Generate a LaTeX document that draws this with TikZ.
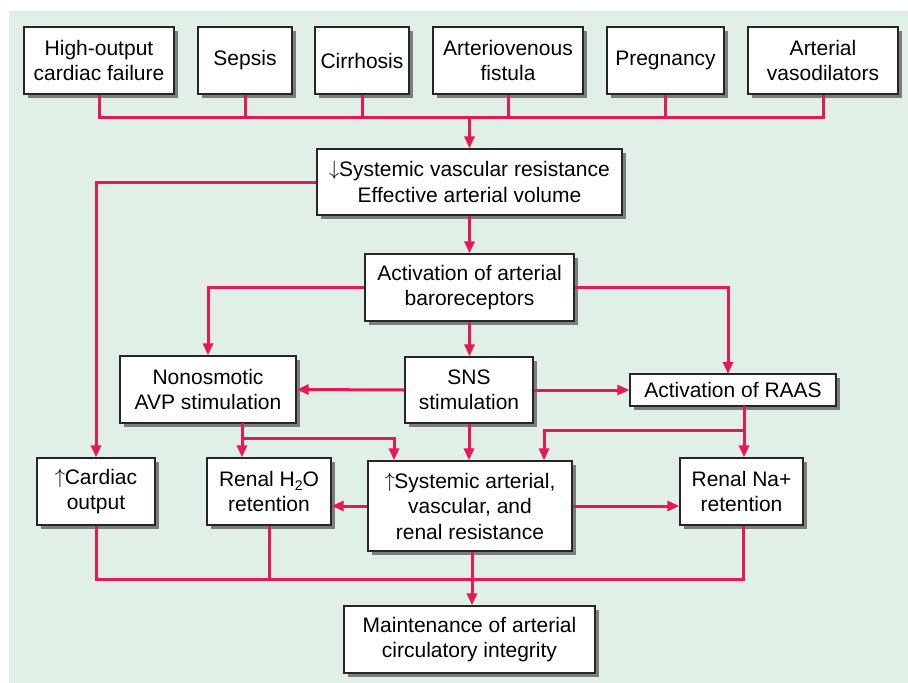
\documentclass[tikz,border=0pt]{standalone}
\usepackage{fontspec}
\setmainfont{Liberation Sans}
\usetikzlibrary{arrows.meta}
\definecolor{bggreen}{RGB}{224,240,230}
\definecolor{linkred}{RGB}{232,24,88}
\definecolor{shadowgray}{RGB}{125,125,125}
\newcommand{\subtwo}{\raisebox{-0.4ex}{\fontsize{14}{14}\selectfont 2}}
\newcommand{\uparr}{\raisebox{0.1ex}{$\uparrow$}\kern-0.5pt}
\newcommand{\downarr}{\raisebox{0.1ex}{$\downarrow$}\kern-0.5pt}
\tikzset{
  box/.style={draw=black!85, line width=1.3pt, fill=white, inner sep=0pt,
    align=center, font=\fontsize{21}{25.5}\selectfont,
    preaction={fill=shadowgray, draw=none, transform canvas={shift={(3.5pt,-3.5pt)}}}},
  link/.style={draw=linkred, line width=3pt},
  arrowlink/.style={link, -{Triangle[length=12pt,width=10pt]}}
}
\begin{document}
\begin{tikzpicture}[x=1pt,y=-1pt]
  % page and background panel
  \useasboundingbox (0,0) rectangle (908,683);
  \fill[white] (0,0) rectangle (908,683);
  \fill[bggreen] (9,11) rectangle (908,683);

  % causes
  \node[box, minimum width=150, minimum height=67] (hocf) at (99,60.5) {High-output\\cardiac failure};
  \node[box, minimum width=94,  minimum height=67] (seps) at (245,60.5) {Sepsis};
  \node[box, minimum width=94,  minimum height=67] (cirr) at (362,60.5) {Cirrhosis};
  \node[box, minimum width=150, minimum height=67] (avf)  at (508,60.5) {Arteriovenous\\fistula};
  \node[box, minimum width=117, minimum height=67] (preg) at (665.5,60.5) {Pregnancy};
  \node[box, minimum width=150, minimum height=67] (avas) at (823,60.5) {Arterial\\vasodilators};

  % central chain
  \node[box, minimum width=305, minimum height=66] (svr)  at (469.5,182) {\downarr Systemic vascular resistance\\Effective arterial volume};
  \node[box, minimum width=209, minimum height=67] (baro) at (469.5,287.5) {Activation of arterial\\baroreceptors};
  \node[box, minimum width=176, minimum height=67] (avp)  at (208,389.5) {Nonosmotic\\AVP stimulation};
  \node[box, minimum width=128, minimum height=66] (sns)  at (469,390) {SNS\\stimulation};
  \node[box, minimum width=206, minimum height=32] (raas) at (733,390) {Activation of RAAS};

  % effects
  \node[box, minimum width=118, minimum height=67] (co)   at (96,491.5) {\uparr Cardiac\\output};
  \node[box, minimum width=124, minimum height=67] (h2o)  at (269,491.5) {Renal H\subtwo O\\retention};
  \node[box, minimum width=204, minimum height=90] (sar)  at (470,506) {\uparr Systemic arterial,\\vascular, and\\renal resistance};
  \node[box, minimum width=123, minimum height=67] (na)   at (741.5,491.5) {Renal Na+\\retention};
  \node[box, minimum width=251, minimum height=67] (mnt)  at (469.5,639.5) {Maintenance of arterial\\circulatory integrity};

  % helper coordinates for bus lines and branch points
  \coordinate (topbus) at (0,117);
  \coordinate (botbus) at (0,579);
  \coordinate (avpdrop) at (242,423);
  \coordinate (avpfork) at (242,438);
  \coordinate (avpto) at (394,438);
  \coordinate (raasdrop) at (744,406);
  \coordinate (raasfork) at (744,430);
  \coordinate (raasto) at (544,430);
  \coordinate (raasin) at (728,374);

  % top bus collecting the causes
  \draw[link] (hocf.south) -- (hocf.south |- topbus) -- (avas.south |- topbus) -- (avas.south);
  \foreach \n in {seps,cirr,avf,preg} \draw[link] (\n.south) -- (\n.south |- topbus);
  \draw[arrowlink] (svr.north |- topbus) -- (svr.north);

  % from the vascular resistance box
  \draw[arrowlink] (svr.west) -| (co.north);
  \draw[arrowlink] (svr.south) -- (baro.north);

  % from the baroreceptors
  \draw[arrowlink] (baro.west) -| (avp.north);
  \draw[arrowlink] (baro.east) -| (raasin);
  \draw[arrowlink] (baro.south) -- (baro.south |- sns.north);

  % from SNS stimulation
  \draw[arrowlink] (sns.west) -- (avp.east);
  \draw[arrowlink] (sns.east) -- (raas.west);
  \draw[arrowlink] (sns.south) -- (sns.south |- sar.north);

  % from AVP stimulation
  \draw[arrowlink] (avpdrop) -- (avpdrop |- h2o.north);
  \draw[arrowlink] (avpfork) -- (avpto) -- (avpto |- sar.north);

  % from RAAS
  \draw[arrowlink] (raasdrop) -- (raasdrop |- na.north);
  \draw[arrowlink] (raasfork) -- (raasto) -- (raasto |- sar.north);

  % from the systemic resistance box
  \draw[arrowlink] (sar.west) -- (sar.west -| h2o.east);
  \draw[arrowlink] (sar.east) -- (sar.east -| na.west);

  % bottom bus towards circulatory integrity
  \draw[link] (co.south) -- (co.south |- botbus) -- ([xshift=1.5]na.south |- botbus) -- ([xshift=1.5]na.south);
  \draw[link] (h2o.south) -- (h2o.south |- botbus);
  \draw[arrowlink] ([xshift=2]sar.south) -- ([xshift=2]sar.south |- mnt.north);
\end{tikzpicture}
\end{document}
